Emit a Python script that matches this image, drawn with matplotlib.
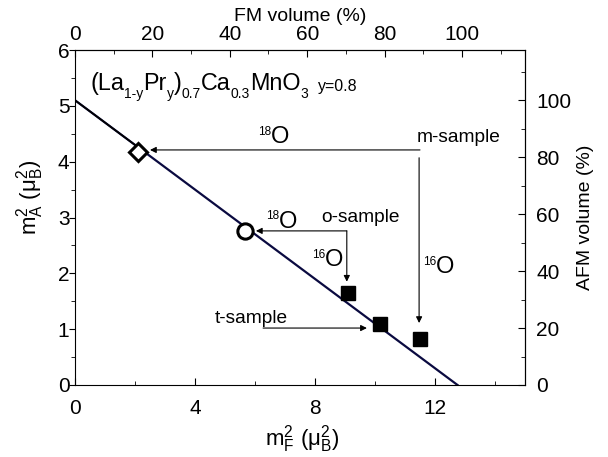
import matplotlib
matplotlib.use("Agg")
import matplotlib.pyplot as plt
from matplotlib.ticker import MultipleLocator
from matplotlib.transforms import offset_copy

plt.rcParams['font.family'] = ['Liberation Sans', 'DejaVu Sans']
plt.rcParams['mathtext.fontset'] = 'custom'
plt.rcParams['mathtext.rm'] = 'Liberation Sans'
plt.rcParams['mathtext.it'] = 'Liberation Sans:italic'
plt.rcParams['mathtext.bf'] = 'Liberation Sans:bold'

# fitted line m_A^2 vs m_F^2
line_x = [0.0, 12.75]
line_y = [5.1, 0.0]

# open symbols on the line (18O samples)
diamond_x, diamond_y = [2.1], [4.18]
circle_x, circle_y = [5.65], [2.75]

# filled squares (16O samples)
sq_x = [9.1, 10.17, 11.5]
sq_y = [1.65, 1.09, 0.82]

# isotope labels (big "O" with superscript)
iso_mass = ['18', '18', '16', '16']
iso_x = [6.82, 7.09, 8.62, 12.35]
iso_y = [4.33, 2.82, 2.13, 2.01]

FM_FULL = 12.9   # m_F^2 at 100 % FM
AFM_FULL = 5.1   # m_A^2 at 100 % AFM

fig = plt.figure(figsize=(6.08, 4.57), dpi=100)
ax = fig.add_axes([75/608, 1-385/457, 450/608, 335/457])
renderer = fig.canvas.get_renderer()


def rich_text(ax, x, y, pieces):
    # pieces: (text, fontsize, baseline shift in points), laid out left to right
    dx = 0
    for s, size, dy in pieces:
        tr = offset_copy(ax.transAxes, fig=ax.figure, x=dx, y=dy, units='points')
        t = ax.text(x, y, s, fontsize=size, ha='left', va='baseline', transform=tr)
        dx += t.get_window_extent(renderer).width * 72 / ax.figure.dpi


ax.plot(line_x, line_y, color='#0a0a40', lw=1.6, zorder=2)
ax.plot([0, diamond_x[0]], [5.1, 5.1 - 0.4*diamond_x[0]], color='black', lw=1.2, zorder=2)
ax.plot(diamond_x, diamond_y, 'D', ms=9, mfc='white', mec='black', mew=2.2, zorder=4)
ax.plot(circle_x, circle_y, 'o', ms=11, mfc='white', mec='black', mew=2.2, zorder=4)
ax.plot(sq_x, sq_y, 's', ms=9.5, color='black', zorder=4)

for m, x, y in zip(iso_mass, iso_x, iso_y):
    ax.text(x, y, 'O', fontsize=17, ha='center', va='baseline')
    ax.annotate(m, (x, y), xytext=(-6.3, 5.8), textcoords='offset points',
                fontsize=8.5, ha='right', va='baseline')

aprops = dict(arrowstyle='-|>', color='black', lw=0.8, mutation_scale=9, shrinkA=0, shrinkB=0)
# m-sample
ax.text(11.4, 4.43, 'm-sample', fontsize=13.8, ha='left', va='center')
ax.annotate('', xy=(2.5, 4.21), xytext=(11.5, 4.21), arrowprops=aprops)
ax.annotate('', xy=(11.47, 1.11), xytext=(11.47, 4.07), arrowprops=aprops)
# o-sample
ax.text(8.2, 3.0, 'o-sample', fontsize=13.8, ha='left', va='center')
ax.annotate('', xy=(6.03, 2.76), xytext=(9.06, 2.76), arrowprops=aprops)
ax.annotate('', xy=(9.06, 1.85), xytext=(9.06, 2.76), arrowprops=aprops)
# t-sample
ax.text(5.87, 1.2, 't-sample', fontsize=13.8, ha='center', va='center')
ax.annotate('', xy=(9.73, 1.02), xytext=(6.27, 1.02), arrowprops=aprops)

rich_text(ax, 15/450, 295/335, [('(La', 16.8, 0), ('1-y', 10, -6), ('Pr', 16.8, 0), ('y', 10, -6),
                                (')', 16.8, 0), ('0.7', 10, -6), ('Ca', 16.8, 0), ('0.3', 10, -6),
                                ('MnO', 16.8, 0), ('3', 10, -6)])
ax.text(243/450, 294/335, 'y=0.8', fontsize=11.5, ha='left', va='baseline', transform=ax.transAxes)

ax.set_xlim(0, 15)
ax.set_ylim(0, 6)
ax.xaxis.set_major_locator(MultipleLocator(4))
ax.xaxis.set_minor_locator(MultipleLocator(2))
ax.yaxis.set_major_locator(MultipleLocator(1))
ax.yaxis.set_minor_locator(MultipleLocator(0.5))
ax.tick_params(axis='y', which='both', direction='out', labelsize=15, pad=0)
ax.tick_params(axis='y', which='major', length=4)
ax.tick_params(axis='y', which='minor', length=3)
ax.tick_params(axis='x', which='both', direction='in', labelsize=15, pad=10)
ax.tick_params(axis='x', which='major', length=5)
ax.tick_params(axis='x', which='minor', length=3)
ax.set_xlabel(r'm$^{\mathrm{2}}_{\mathrm{F}}$ ($\mathrm{μ}^{\mathrm{2}}_{\mathrm{B}}$)', fontsize=16)
ax.set_ylabel(r'm$^{\mathrm{2}}_{\mathrm{A}}$ ($\mathrm{μ}^{\mathrm{2}}_{\mathrm{B}}$)', fontsize=16)
ax.xaxis.set_label_coords(0.504, -0.115)
ax.yaxis.set_label_coords(-0.065, 0.56)

top = ax.secondary_xaxis('top', functions=(lambda v: v/FM_FULL*100, lambda p: p*FM_FULL/100))
top.xaxis.set_major_locator(MultipleLocator(20))
top.xaxis.set_minor_locator(MultipleLocator(10))
top.tick_params(which='both', direction='in', labelsize=15, pad=4)
top.tick_params(which='major', length=5)
top.tick_params(which='minor', length=3)
top.set_xlabel('FM volume (%)', fontsize=14, labelpad=3)

right = ax.secondary_yaxis('right', functions=(lambda v: v/AFM_FULL*100, lambda p: p*AFM_FULL/100))
right.yaxis.set_major_locator(MultipleLocator(20))
right.yaxis.set_minor_locator(MultipleLocator(10))
right.tick_params(which='both', direction='in', labelsize=15, pad=8)
right.tick_params(which='major', length=5)
right.tick_params(which='minor', length=3)
right.set_ylabel('AFM volume (%)', fontsize=14, labelpad=4)

fig.savefig('out.png', dpi=100)
